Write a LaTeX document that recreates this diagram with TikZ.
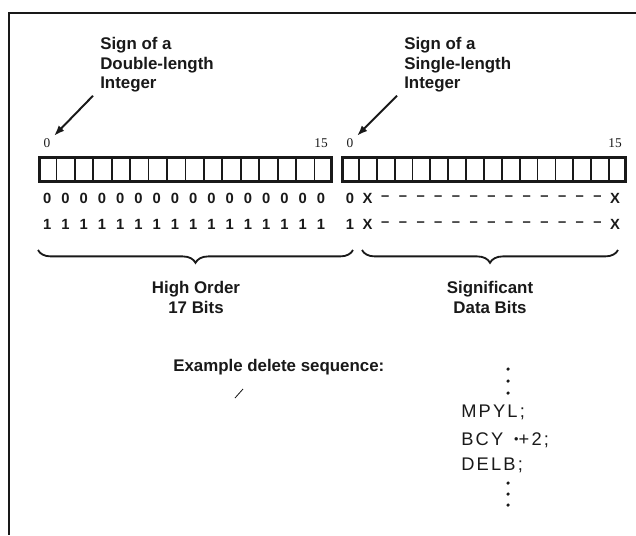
\documentclass[tikz,border=0pt]{standalone}
\usepackage{fontspec}
\setmainfont{Liberation Serif}
\setsansfont{Liberation Sans}
\newfontfamily\codefont[LetterSpace=12.0]{Liberation Sans}
\usetikzlibrary{arrows.meta,positioning,calc,decorations.pathreplacing}
\definecolor{inkblack}{RGB}{25,25,25}
\tikzset{
  framerule/.style={draw=inkblack, line width=2pt},
  regbox/.style={
    draw=inkblack, line width=2pt, inner sep=0pt,
    minimum height=0.6cm
  },
  cellrule/.style={draw=inkblack, line width=1.3pt},
  bitnum/.style={font=\rmfamily\fontsize{9.5}{11}\selectfont, inner sep=1pt, text=inkblack},
  bitval/.style={font=\sffamily\bfseries\fontsize{10.5}{12}\selectfont, inner sep=0pt, text=inkblack},
  caption/.style={
    font=\sffamily\bfseries\fontsize{12}{14}\selectfont,
    align=left, inner sep=0pt, text=inkblack
  },
  groupcap/.style={caption, align=center},
  ptr/.style={-{Latex[length=7.5pt,width=5.5pt]}, line width=1.4pt, draw=inkblack},
  grp/.style={
    decorate, decoration={brace, mirror, amplitude=0.32cm},
    line width=1.3pt, draw=inkblack
  },
  codeline/.style={font=\codefont\fontsize{13}{15}\selectfont, inner sep=0pt, text=inkblack},
  codedot/.style={circle, fill=inkblack, inner sep=0pt, minimum size=2.5pt}
}

\begin{document}
\begin{tikzpicture}[x=0.025cm, y=-0.025cm]
\useasboundingbox (0,0) rectangle (636,535);

%--------------------------------------------------
% Frame (open at right and bottom)
%--------------------------------------------------
\draw[framerule] (636,13) -- (9,13) -- (9,535);

%--------------------------------------------------
% Sign captions
%--------------------------------------------------
\node[caption, anchor=north west] (dblcap) at (100,37)
{Sign of a\\Double-length\\Integer};

\node[caption, anchor=north west] (sglcap) at (404,37)
{Sign of a\\Single-length\\Integer};

%--------------------------------------------------
% The two 16-bit registers
%--------------------------------------------------
\node[regbox, anchor=north west, minimum width=7.3cm]   (hireg) at (38,156)  {};
\node[regbox, anchor=north west, minimum width=7.075cm] (loreg) at (341,156) {};

\foreach \i in {1,...,15} {
  \draw[cellrule] ($(hireg.north west)!\i/16!(hireg.north east)$) --
                  ($(hireg.south west)!\i/16!(hireg.south east)$);
  \draw[cellrule] ($(loreg.north west)!\i/16!(loreg.north east)$) --
                  ($(loreg.south west)!\i/16!(loreg.south east)$);
}

% bit numbers
\node[bitnum] (hn0)  at (47,143)  {0};
\node[bitnum] (hn15) at (321,143) {15};
\node[bitnum] (ln0)  at (350,143) {0};
\node[bitnum] (ln15) at (615,143) {15};

% sign pointers
\draw[ptr] ($(dblcap.south west)+(-7,3)$) -- ($(hn0.north east)+(2,-1)$);
\draw[ptr] ($(sglcap.south west)+(-7,3)$) -- ($(ln0.north east)+(2,-1)$);

%--------------------------------------------------
% Bit patterns
%--------------------------------------------------
\foreach \i in {0,...,15} {
  \node[bitval] (hz\i) at ({38+18.25*(\i+0.5)},198) {0};
  \node[bitval] (ho\i) at ({38+18.25*(\i+0.5)},224) {1};
}

\node[bitval] (lz0) at (350,198) {0};
\node[bitval] (lo0) at (350,224) {1};
\node[bitval] (lzx1) at (367.5,198) {X};
\node[bitval] (lox1) at (367.5,224) {X};
\foreach \i in {2,...,14} {
  \node[bitval] (lzd\i) at ({341+17.69*(\i+0.5)},198) {–};
  \node[bitval] (lod\i) at ({341+17.69*(\i+0.5)},224) {–};
}
\node[bitval] (lzx15) at (615,198) {X};
\node[bitval] (lox15) at (615,224) {X};

%--------------------------------------------------
% Braces and their captions
%--------------------------------------------------
\coordinate (hib0) at (38,250);
\coordinate (hib1) at (353,250);
\coordinate (lob0) at (362,250);
\coordinate (lob1) at (618,250);

\draw[grp] (hib0) -- (hib1);
\draw[grp] (lob0) -- (lob1);

\node[groupcap, anchor=north] (hicap) at (196,281) {High Order\\17 Bits};
\node[groupcap, anchor=north] (locap) at (490,281) {Significant\\Data Bits};

%--------------------------------------------------
% Example sequence
%--------------------------------------------------
\node[caption, anchor=west] (excap) at (173,367) {Example delete sequence:};

\draw[inkblack, line width=0.6pt] (235,398) -- (243,389);

\foreach \k/\y in {1/369,2/381,3/393}
  \node[codedot] (td\k) at (508,\y) {};

\node[codeline, anchor=base west] (mpyl) at (461,417) {MPYL;};
\node[codeline, anchor=base west] (bcy)  at (461,445)
{BCY\hspace{0.6em}\raisebox{0.15ex}{\small •}+2;};
\node[codeline, anchor=base west] (delb) at (461,470) {DELB;};

\foreach \k/\y in {1/483,2/494,3/505}
  \node[codedot] (bd\k) at (508,\y) {};

\end{tikzpicture}
\end{document}
